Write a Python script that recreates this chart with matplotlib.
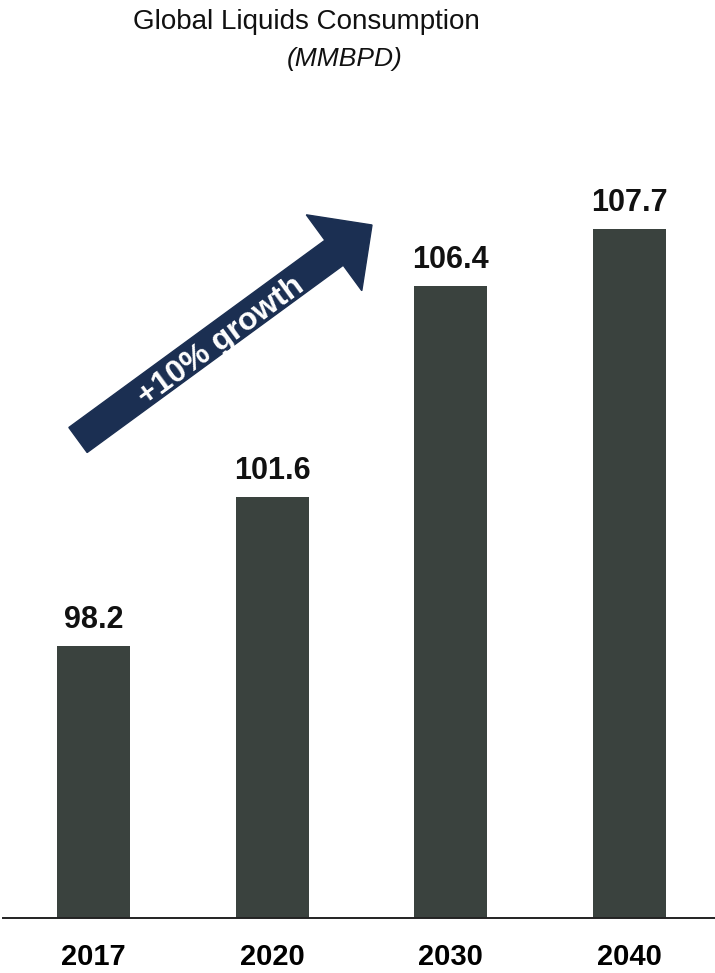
import matplotlib
matplotlib.use("Agg")
import matplotlib.pyplot as plt
from matplotlib.patches import FancyArrow
from matplotlib.transforms import IdentityTransform

# data
years = ["2017", "2020", "2030", "2040"]
consumption = [98.2, 101.6, 106.4, 107.7]

bar_color = "#3a423e"
arrow_color = "#1b2f52"

plt.rcParams["font.family"] = ["Liberation Sans", "DejaVu Sans"]

fig = plt.figure(figsize=(7.15, 9.73), dpi=100)
# baseline at ~918 px from top, value scale ~43.9 px per MMBPD
ax = fig.add_axes([0.004, 55 / 973, 0.996, 818 / 973])

x = list(range(len(years)))
ax.bar(x, consumption, width=0.41, color=bar_color)
ax.set_ylim(92.0, 92.0 + 818 / 43.9)
ax.set_xlim(-0.508, 3.48)

# value labels above bars
for xi, val in zip(x, consumption):
    ax.annotate(f"{val:.1f}", (xi, val), xytext=(0, 13), textcoords="offset points",
                ha="center", va="baseline", fontsize=22, fontweight="bold", color="#111111")

# axes styling
for side in ["top", "right", "left"]:
    ax.spines[side].set_visible(False)
ax.spines["bottom"].set_linewidth(1.4)
ax.spines["bottom"].set_color("#222222")
ax.set_yticks([])
ax.set_xticks(x)
ax.set_xticklabels(years, fontsize=21, fontweight="bold")
ax.tick_params(axis="x", length=0, pad=18)

# titles
fig.text(0.428, 1 - 22 / 973, "Global Liquids Consumption", ha="center", va="center",
         fontsize=20, color="#111111")
fig.text(345 / 715, 1 - 59 / 973, "(MMBPD)", ha="center", va="center",
         fontsize=19, style="italic", color="#111111")

# growth arrow (pixel coordinates)
H = 973
arrow = FancyArrow(78, H - 440, 294, 215, width=31, head_width=94, head_length=47,
                   length_includes_head=True, color=arrow_color, transform=IdentityTransform())
fig.add_artist(arrow)
fig.text(221 / 715, 1 - 341 / H, "+10% growth", rotation=36.2, rotation_mode="anchor",
         ha="center", va="center", fontsize=23, fontweight="bold", color="white")

fig.savefig("out.png", dpi=100)
